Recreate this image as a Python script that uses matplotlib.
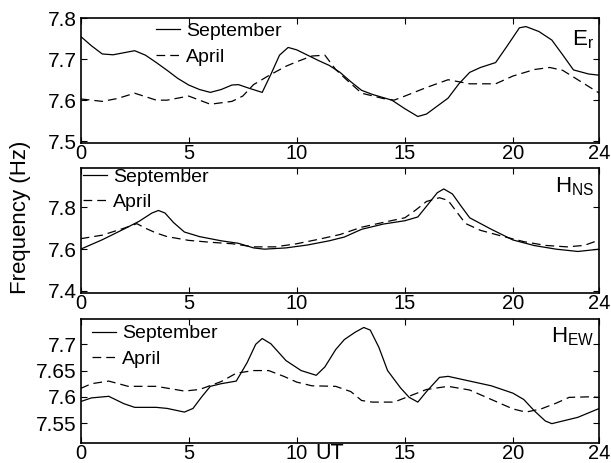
import matplotlib
matplotlib.use('Agg')
import matplotlib.pyplot as plt

plt.rcParams['font.family'] = ['Liberation Sans', 'DejaVu Sans']
plt.rcParams['mathtext.fontset'] = 'custom'
plt.rcParams['mathtext.rm'] = 'Liberation Sans'

# ---- data ----
# E_r panel
er_sep_t = [0, 0.5, 1, 1.5, 2, 2.5, 3, 3.5, 4, 4.5, 5, 5.5, 6, 6.5, 7, 7.3, 7.8, 8.4, 8.8, 9.2,
            9.6, 10, 10.5, 11, 11.5, 12, 12.5, 13, 13.5, 14.4, 15, 15.6, 16, 17, 17.5, 18, 18.5,
            19.2, 19.7, 20.3, 20.6, 21.2, 21.8, 22.3, 22.8, 23.5, 24]
er_sep_f = [7.756, 7.733, 7.713, 7.711, 7.716, 7.721, 7.71, 7.692, 7.673, 7.653, 7.637, 7.626,
            7.619, 7.626, 7.637, 7.638, 7.629, 7.619, 7.663, 7.71, 7.729, 7.723, 7.71, 7.697,
            7.685, 7.668, 7.645, 7.624, 7.614, 7.6, 7.579, 7.56, 7.566, 7.605, 7.64, 7.668,
            7.68, 7.692, 7.73, 7.777, 7.78, 7.768, 7.747, 7.711, 7.674, 7.664, 7.661]
er_apr_t = [0, 1, 1.7, 2.5, 3.5, 4, 5, 6, 7, 7.5, 8, 8.7, 9.5, 10, 10.7, 11.3, 11.8, 12.3, 13,
            14, 14.5, 15, 16, 17, 17.5, 18, 19.2, 20, 21, 21.7, 22.3, 23, 24]
er_apr_f = [7.603, 7.597, 7.604, 7.617, 7.6, 7.6, 7.61, 7.59, 7.597, 7.61, 7.638, 7.66, 7.683,
            7.694, 7.708, 7.71, 7.675, 7.65, 7.617, 7.604, 7.6, 7.61, 7.631, 7.65, 7.645, 7.64,
            7.64, 7.659, 7.675, 7.68, 7.673, 7.65, 7.617]

# H_NS panel
ns_sep_t = [0, 1, 2, 2.7, 3.3, 3.6, 3.9, 4.3, 4.8, 5.5, 6.5, 7.3, 8, 8.5, 9.5, 10.5, 11.5, 12.2,
            13, 14, 15, 15.6, 16, 16.5, 16.8, 17.2, 17.6, 18, 19, 20, 21, 22, 23, 24]
ns_sep_f = [7.6, 7.645, 7.696, 7.733, 7.773, 7.785, 7.773, 7.727, 7.682, 7.66, 7.64, 7.628,
            7.606, 7.6, 7.606, 7.62, 7.64, 7.658, 7.695, 7.72, 7.736, 7.754, 7.805, 7.87,
            7.888, 7.864, 7.806, 7.75, 7.695, 7.644, 7.617, 7.6, 7.589, 7.6]
ns_apr_t = [0, 1, 2, 2.6, 3, 3.5, 4, 5, 6, 7, 8, 9, 10, 11, 12, 13, 14, 15, 15.5, 16, 16.6, 17,
            17.4, 17.8, 18.5, 19.5, 20.5, 21.5, 22.5, 23.3, 24]
ns_apr_f = [7.65, 7.667, 7.7, 7.722, 7.7, 7.677, 7.66, 7.642, 7.633, 7.626, 7.611, 7.611,
            7.626, 7.647, 7.67, 7.705, 7.728, 7.75, 7.787, 7.828, 7.846, 7.833, 7.778, 7.723,
            7.69, 7.662, 7.636, 7.618, 7.611, 7.618, 7.644]

# H_EW panel
ew_sep_t = [0, 0.5, 1.3, 2, 2.5, 3.5, 4, 4.8, 5.2, 5.6, 6, 6.5, 7.2, 7.7, 8.1, 8.4, 8.8, 9.5,
            10.2, 10.9, 11.3, 11.8, 12.2, 12.7, 13.1, 13.4, 13.8, 14.2, 14.8, 15.2, 15.6, 16,
            16.6, 17, 18, 19, 20, 20.5, 21, 21.5, 21.8, 23, 24]
ew_sep_f = [7.591, 7.598, 7.601, 7.587, 7.58, 7.58, 7.578, 7.571, 7.578, 7.6, 7.62, 7.625,
            7.63, 7.665, 7.7, 7.711, 7.701, 7.669, 7.65, 7.641, 7.657, 7.69, 7.709, 7.723,
            7.732, 7.727, 7.694, 7.65, 7.617, 7.599, 7.59, 7.61, 7.637, 7.639, 7.63, 7.621,
            7.607, 7.595, 7.573, 7.554, 7.549, 7.561, 7.578]
ew_apr_t = [0, 0.5, 1.3, 2.2, 3.5, 4.8, 5.5, 6.5, 7.2, 8, 8.7, 9.4, 10, 10.7, 11.8, 12.5, 13,
            13.5, 14.5, 15, 16, 17, 18, 19, 20, 20.6, 21.3, 22, 22.6, 23.5, 24]
ew_apr_f = [7.616, 7.625, 7.63, 7.62, 7.62, 7.611, 7.614, 7.629, 7.645, 7.65, 7.65, 7.639,
            7.628, 7.621, 7.62, 7.61, 7.593, 7.59, 7.59, 7.598, 7.614, 7.62, 7.613, 7.595,
            7.577, 7.571, 7.577, 7.588, 7.599, 7.6, 7.599]

xticks = [0, 5, 10, 15, 20, 24]
er_yticks = [7.5, 7.6, 7.7, 7.8]
er_ylabels = ['7.5', '7.6', '7.7', '7.8']
ns_yticks = [7.4, 7.6, 7.8]
ns_ylabels = ['7.4', '7.6', '7.8']
ew_yticks = [7.55, 7.6, 7.65, 7.7]
ew_ylabels = ['7.55', '7.6', '7.65', '7.7']

panels = [
    (er_sep_t, er_sep_f, er_apr_t, er_apr_f, er_yticks, er_ylabels, (7.495, 7.802),
     r'$\mathregular{E_r}$', (0.145, 0.96), 0.78),
    (ns_sep_t, ns_sep_f, ns_apr_t, ns_apr_f, ns_yticks, ns_ylabels, (7.39, 7.99),
     r'$\mathregular{H_{NS}}$', (0.004, 0.995), 0.8),
    (ew_sep_t, ew_sep_f, ew_apr_t, ew_apr_f, ew_yticks, ew_ylabels, (7.512, 7.749),
     r'$\mathregular{H_{EW}}$', (0.022, 0.95), 0.81),
]
boxes = [[0.132, 0.691, 0.849, 0.271],
         [0.132, 0.367, 0.849, 0.271],
         [0.132, 0.043, 0.849, 0.269]]

fig = plt.figure(figsize=(6.11, 4.63), dpi=100)
for box, (st, sf, at, af, yt, yl, ylim, name, lpos, ny) in zip(boxes, panels):
    ax = fig.add_axes(box)
    ax.plot(st, sf, color='black', lw=0.9, label='September')
    ax.plot(at, af, color='black', lw=0.9, dashes=(7, 4), label='April')
    ax.set_xlim(0, 24)
    ax.set_ylim(*ylim)
    ax.set_xticks(xticks)
    ax.set_yticks(yt)
    ax.set_yticklabels(yl)
    ax.tick_params(axis='y', labelsize=15, pad=3)
    ax.tick_params(axis='x', labelsize=14.5, pad=0.5)
    ax.tick_params(direction='in', length=4, width=0.8, top=True, right=True)
    for s in ax.spines.values():
        s.set_linewidth(1.2)
    ax.legend(loc='upper left', bbox_to_anchor=lpos, frameon=False, fontsize=14,
              handlelength=1.25, handletextpad=0.3, labelspacing=0.4, borderaxespad=0,
              borderpad=0)
    ax.text(0.99, ny, name, transform=ax.transAxes, ha='right', va='baseline', fontsize=16)

fig.text(0.033, 0.53, 'Frequency (Hz)', rotation=90, ha='center', va='center', fontsize=16)
fig.text(0.54, 0.021, 'UT', ha='center', va='center', fontsize=15.5)
fig.savefig('out.png', dpi=100)
